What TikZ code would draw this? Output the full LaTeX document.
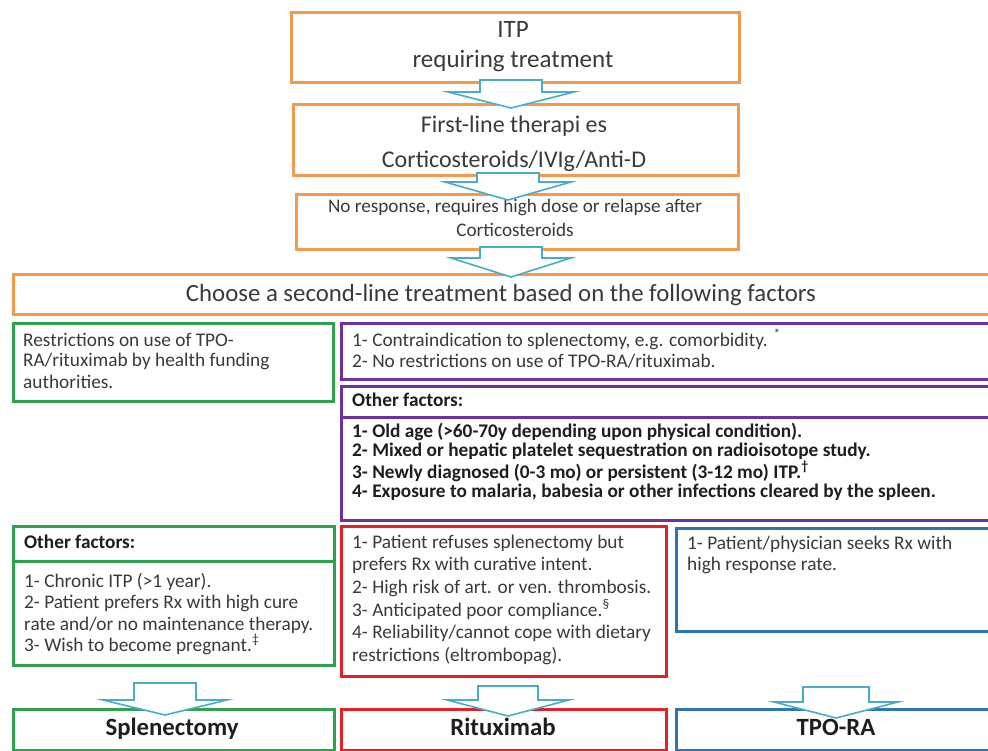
\documentclass[tikz,border=0pt]{standalone}
\usepackage{fontspec}
\setmainfont{Carlito}
\definecolor{orng}{HTML}{F39A4E}
\definecolor{grn}{HTML}{2EA24E}
\definecolor{purp}{HTML}{7030A0}
\definecolor{redb}{HTML}{E32129}
\definecolor{blub}{HTML}{2E75B6}
\definecolor{arrc}{HTML}{4BACC6}
\definecolor{txt}{HTML}{3A3A3A}
\definecolor{txtb}{HTML}{1E1E1E}
\newcommand\barrow[6]{%
  \draw[barr] ({#1-#2},#4) -- ({#1+#2},#4) -- ({#1+#2},#5) -- ({#1+#3},#5) -- (#1,#6)
    -- ({#1-#3},#5) -- ({#1-#2},#5) -- cycle;}
\begin{document}
\begin{tikzpicture}[x=1pt,y=-1pt,
  box/.style={draw, line width=2.6pt, inner sep=0pt, anchor=north west, fill=white},
  obox/.style={box, draw=orng},
  gbox/.style={box, draw=grn},
  pbox/.style={box, draw=purp},
  rbox/.style={box, draw=redb},
  bbox/.style={box, draw=blub},
  barr/.style={draw=arrc, line width=1.6pt, fill=white, line join=miter},
  body/.style={anchor=base west, inner sep=0pt, align=left, text=txt, font=\fontsize{19.3}{#1}\selectfont},
  bodyb/.style={anchor=base west, inner sep=0pt, align=left, text=txtb, font=\fontsize{19.3}{#1}\selectfont\bfseries},
  big/.style={anchor=base, align=center, inner sep=0pt, text=txt},
  res/.style={anchor=base, inner sep=0pt, text=txtb, font=\fontsize{24.8}{28}\selectfont\bfseries}
]
\useasboundingbox (0,0) rectangle (988,751);
\clip (0,0) rectangle (988,751);
\fill[white] (0,0) rectangle (988,751);

% top boxes
\node[obox, minimum width=448pt, minimum height=70pt] (b1) at (290,11) {};
\node[obox, minimum width=445pt, minimum height=71pt] (b2) at (292,103) {};
\node[obox, minimum width=442pt, minimum height=55pt] (b3) at (295,193) {};
\node[obox, minimum width=983pt, minimum height=40pt] (b4) at (12,273) {};

% (multi-line nodes: base anchor = baseline of last line)
\node[big, font=\fontsize{25}{30}\selectfont] (t1) at (513,68) {ITP\\requiring treatment};
\node[big, font=\fontsize{24}{35}\selectfont] (t2) at (514,168) {First-line therapi es\\Corticosteroids/IVIg/Anti-D};
\node[big, font=\fontsize{19.2}{24}\selectfont] (t3) at (515,237) {No response, requires high dose or relapse after\\Corticosteroids};
\node[big, font=\fontsize{24.8}{28}\selectfont] (t4) at (501,302) {Choose a second-line treatment based on the following factors};

% factor boxes
\node[gbox, minimum width=320pt, minimum height=78pt] (g1) at (12,322) {};
\node[pbox, minimum width=655pt, minimum height=56pt] (pa) at (340,322) {};
\node[pbox, minimum width=655pt, minimum height=31pt] (ph) at (340,385) {};
\node[pbox, minimum width=655pt, minimum height=103pt] (pb) at (340,416) {};
\node[gbox, minimum width=321pt, minimum height=35pt] (gh) at (12,525) {};
\node[gbox, minimum width=321pt, minimum height=104pt] (gb) at (12,560) {};
\node[rbox, minimum width=325pt, minimum height=150pt] (rd) at (340,525) {};
\node[bbox, minimum width=320pt, minimum height=103pt] (bl) at (675,527) {};

\node[body=21] (tg1) at (23,388) {Restrictions on use of TPO-\\RA/rituximab by health funding\\authorities.};
\node[body=21] (tpa) at (352,367) {1- Contraindication to splenectomy, e.g. comorbidity. \textsuperscript{*}\\2- No restrictions on use of TPO-RA/rituximab.};
\node[bodyb=19] (tph) at (352,406) {Other factors:};
\node[bodyb=19] (tpb) at (352,497) {1- Old age (>60-70y depending upon physical condition).\\2- Mixed or hepatic platelet sequestration on radioisotope study.\\3- Newly diagnosed (0-3 mo) or persistent (3-12 mo) ITP.\textsuperscript{†}\\4- Exposure to malaria, babesia or other infections cleared by the spleen.};
\node[bodyb=19] (tgh) at (24,548) {Other factors:};
\node[body=21.5] (tgb) at (24,651.5) {1- Chronic ITP (>1 year).\\2- Patient prefers Rx with high cure\\rate and/or no maintenance therapy.\\3- Wish to become pregnant.\textsuperscript{‡}};
\node[body=22.7] (trd) at (352,661.5) {1- Patient refuses splenectomy but\\prefers Rx with curative intent.\\2- High risk of art. or ven. thrombosis.\\3- Anticipated poor compliance.\textsuperscript{§}\\4- Reliability/cannot cope with dietary\\restrictions (eltrombopag).};
\node[body=21] (tbl) at (687,570) {1- Patient/physician seeks Rx with\\high response rate.};

% result boxes
\node[gbox, minimum width=321pt, minimum height=41pt] (spl) at (12,708) {};
\node[rbox, minimum width=325pt, minimum height=41pt] (rit) at (340,708) {};
\node[bbox, minimum width=320pt, minimum height=41pt] (tpo) at (675,708) {};
\node[res] (tspl) at (172,735) {Splenectomy};
\node[res] (trit) at (503,735) {Rituximab};
\node[res] (ttpo) at (836,735) {TPO-RA};

% block arrows
\barrow{511}{31}{63}{80}{92}{108}
\barrow{508}{31}{63}{173}{182}{200}
\barrow{511}{31}{60}{247}{258}{277}
\barrow{165}{31}{62}{683}{700}{715}
\barrow{508}{30}{61}{686}{700}{716}
\barrow{836}{33}{62}{687}{702}{718}
\end{tikzpicture}
\end{document}
